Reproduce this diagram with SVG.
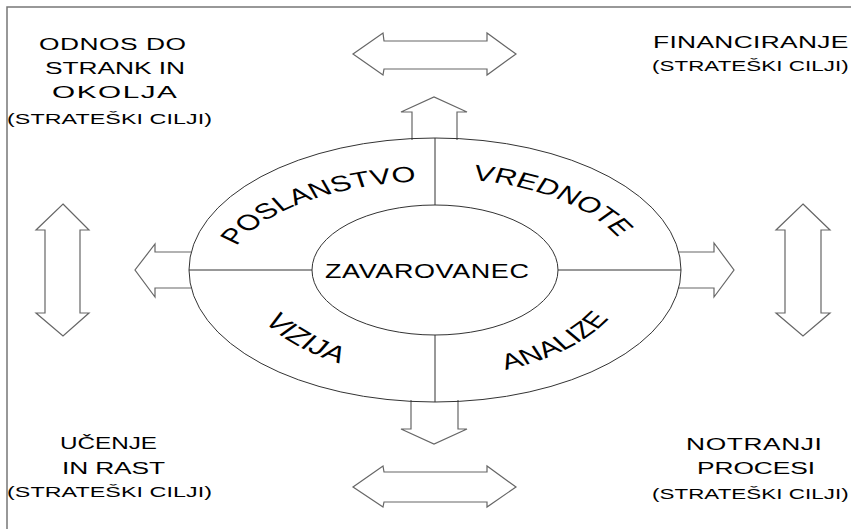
<svg xmlns="http://www.w3.org/2000/svg" width="851" height="529" viewBox="0 0 851 529">
<style>
.t{font-family:"Liberation Sans",Arial,sans-serif;fill:#000}
.h{font-size:17px}
.s{font-size:15px}
.c{font-size:21px}
.arr{fill:#fff;stroke:#666;stroke-width:1.2}
.ln{fill:none;stroke:#333;stroke-width:1}
</style>
<defs>
<path id="topArc" d="M -150.7 10 A 150.7 99 0 0 1 150.7 10"/>
<path id="topArc2" d="M -142.9 8 A 142.9 100 0 0 1 142.9 8"/>
<path id="botArc" d="M -139.3 0 A 139.3 107 0 0 0 139.3 0"/>
</defs>
<rect x="7" y="7" width="900" height="600" fill="#fff" stroke="#777" stroke-width="1.5"/>
<g id="connectors">
<polygon class="arr" points="353,54 383,33 384,41 487,41 487,33 516,54 487,75 487,69 384,69 383,75"/>
<polygon class="arr" points="353,487 383,466 384,472 487,472 487,466 516,487 487,507 487,502 384,502 383,507"/>
<polygon class="arr" points="63,204 89,230 80,230 80,313 89,313 63,336 36,313 45,313 45,230 36,230"/>
<polygon class="arr" points="803,204 830,230 821,230 821,313 830,313 803,336 776,313 785,313 785,230 776,230"/>
<polyline class="arr" points="412,140 412,112 401,112 434,97 467,112 457,112 457,140"/>
<polyline class="arr" points="411,400 411,429 401,429 434,444 467,429 458,429 458,400"/>
<polyline class="arr" points="191,252 155,252 155,244 135,270 155,297 155,288 191,288"/>
<polyline class="arr" points="678,252 714,252 714,243 734,270 714,297 714,288 678,288"/>
</g>
<g id="outer">
<ellipse cx="435" cy="270" rx="246" ry="132" class="ln"/>
<line x1="435" y1="138" x2="435" y2="205" class="ln"/>
<line x1="435" y1="335" x2="435" y2="402" class="ln"/>
<line x1="189" y1="270" x2="312" y2="270" class="ln"/>
<line x1="558" y1="270" x2="681" y2="270" class="ln"/>
</g>
<g id="inner">
<ellipse cx="435" cy="270" rx="123" ry="65" class="ln"/>
<text class="t c" transform="translate(325 278) scale(1.285 1)" textLength="158.7" lengthAdjust="spacing">ZAVAROVANEC</text>
</g>
<g id="segments" transform="translate(435 270) scale(1.4 1)">
<text class="t" text-anchor="middle" style="font-size:22px"><textPath href="#topArc" startOffset="110">POSLANSTVO</textPath></text>
<text class="t" text-anchor="middle" style="font-size:22px"><textPath href="#topArc2" startOffset="280">VREDNOTE</textPath></text>
<text class="t" text-anchor="middle" style="font-size:23px"><textPath href="#botArc" startOffset="89.5">VIZIJA</textPath></text>
<text class="t" text-anchor="middle" style="font-size:22px"><textPath href="#botArc" startOffset="291">ANALIZE</textPath></text>
</g>
<g id="odnos">
<text class="t h" transform="translate(39 50) scale(1.55 1)" textLength="94.8" lengthAdjust="spacing">ODNOS DO</text>
<text class="t h" transform="translate(45 74) scale(1.55 1)" textLength="90.3" lengthAdjust="spacing">STRANK IN</text>
<text class="t h" transform="translate(52 98) scale(1.75 1)" textLength="71.4" lengthAdjust="spacing">OKOLJA</text>
<text class="t s" transform="translate(7 124) scale(1.55 1)" textLength="132.3" lengthAdjust="spacing">(STRATEŠKI CILJI)</text>
</g>
<g id="financiranje">
<text class="t h" transform="translate(653 48) scale(1.55 1)" textLength="126" lengthAdjust="spacing">FINANCIRANJE</text>
<text class="t s" transform="translate(652 71) scale(1.49 1)" textLength="132" lengthAdjust="spacing">(STRATEŠKI CILJI)</text>
</g>
<g id="ucenje">
<text class="t h" transform="translate(60 449) scale(1.43 1)" textLength="67.8" lengthAdjust="spacing">UČENJE</text>
<text class="t h" transform="translate(62 474) scale(1.55 1)" textLength="66.5" lengthAdjust="spacing">IN RAST</text>
<text class="t s" transform="translate(7 497) scale(1.55 1)" textLength="132.3" lengthAdjust="spacing">(STRATEŠKI CILJI)</text>
</g>
<g id="notranji">
<text class="t h" transform="translate(686 450) scale(1.55 1)" textLength="87.7" lengthAdjust="spacing">NOTRANJI</text>
<text class="t h" transform="translate(697 474) scale(1.55 1)" textLength="76.1" lengthAdjust="spacing">PROCESI</text>
<text class="t s" transform="translate(652 499) scale(1.49 1)" textLength="132" lengthAdjust="spacing">(STRATEŠKI CILJI)</text>
</g>
</svg>
